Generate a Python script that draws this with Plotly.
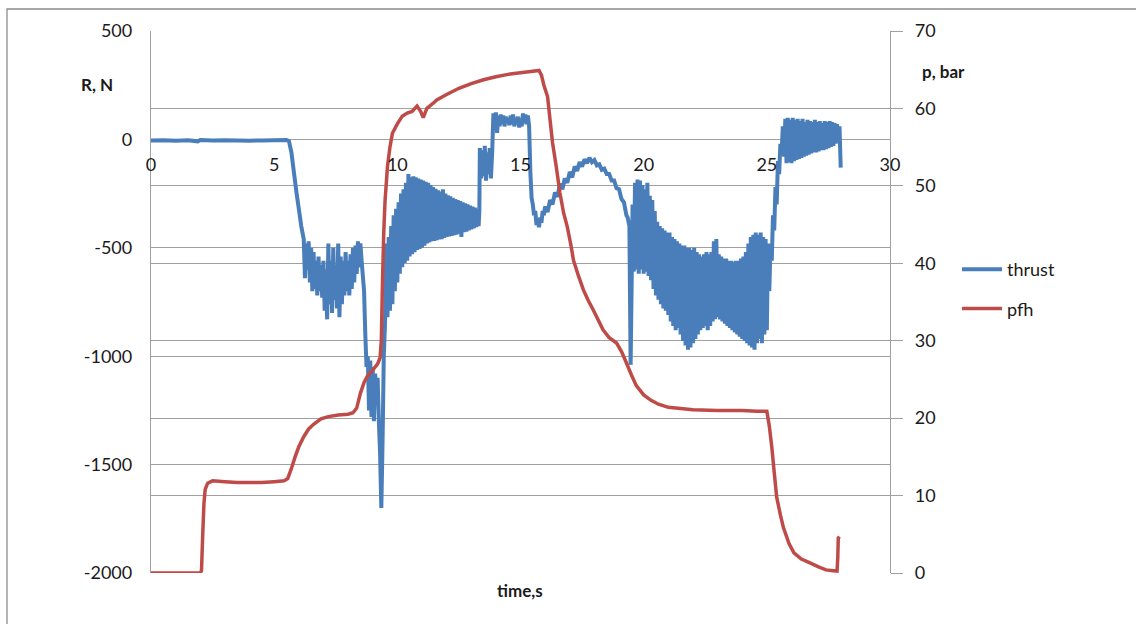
import plotly.graph_objects as go

# ---------------- data ----------------
x_ticks = [0, 5, 10, 15, 20, 25, 30]
left_ticks = [-2000, -1500, -1000, -500, 0, 500]
left_tick_labels = ["-2000", "-1500", "-1000", "-500", "0", "500"]
right_ticks = [0, 10, 20, 30, 40, 50, 60, 70]

series_names = ["thrust", "pfh"]
left_title = "R, N"
right_title = "p, bar"
x_title = "time,s"

# thrust, N  (time s, value)
thrust_points = [
    (0.0, -5), (0.5, -4), (1.0, -6), (1.5, -4), (1.9, -9), (2.0, -3), (2.5, -5), (3.0, -4),
    (3.5, -5), (4.0, -6), (4.5, -5), (5.0, -4), (5.5, -3), (5.6, -8),
    (5.7, -60), (5.8, -150), (5.9, -240), (6.0, -320), (6.1, -400),
    (6.2, -460), (6.25, -640), (6.3, -480), (6.35, -600), (6.4, -470), (6.45, -660), (6.5, -500),
    (6.55, -700), (6.6, -520), (6.65, -690), (6.7, -560), (6.75, -720), (6.8, -540), (6.85, -700),
    (6.9, -580), (6.95, -730), (7.0, -560), (7.05, -790), (7.1, -600), (7.15, -830), (7.2, -480),
    (7.25, -760), (7.3, -560), (7.35, -800), (7.4, -500), (7.45, -740), (7.5, -580), (7.55, -780),
    (7.6, -480), (7.65, -820), (7.7, -540), (7.75, -760), (7.8, -560), (7.85, -720), (7.9, -520),
    (7.95, -700), (8.0, -560), (8.05, -720), (8.1, -530), (8.15, -690), (8.2, -500), (8.25, -660),
    (8.3, -490), (8.35, -620), (8.4, -470), (8.45, -590), (8.5, -480), (8.55, -560),
    (8.65, -700), (8.7, -900), (8.75, -1050), (8.8, -1000), (8.85, -1250), (8.9, -1020),
    (8.95, -1280), (9.0, -1050), (9.05, -1300), (9.1, -1080), (9.15, -1200), (9.2, -1100),
    (9.25, -1300), (9.3, -1450), (9.35, -1700), (9.4, -1400), (9.45, -1000),
    (9.5, -850), (9.55, -480), (9.6, -820), (9.65, -450), (9.7, -790), (9.75, -400), (9.8, -760),
    (9.85, -350), (9.9, -700), (9.95, -320), (10.0, -660), (10.05, -290), (10.1, -620),
    (10.15, -250), (10.2, -590), (10.25, -230), (10.3, -570), (10.35, -200), (10.4, -560),
    (10.45, -160), (10.5, -540), (10.55, -175), (10.6, -530), (10.65, -170), (10.7, -520),
    (10.75, -175), (10.8, -510), (10.85, -180), (10.9, -505), (10.95, -185), (11.0, -500),
    (11.05, -190), (11.1, -490), (11.15, -195), (11.2, -480), (11.25, -200), (11.3, -475),
    (11.35, -210), (11.4, -470), (11.45, -220), (11.5, -468), (11.55, -228), (11.6, -465),
    (11.65, -235), (11.7, -462), (11.75, -240), (11.8, -460), (11.85, -230), (11.9, -455),
    (11.95, -250), (12.0, -450), (12.05, -258), (12.1, -448), (12.15, -262), (12.2, -445),
    (12.25, -270), (12.3, -442), (12.35, -275), (12.4, -440), (12.45, -280), (12.5, -435),
    (12.55, -285), (12.6, -450), (12.65, -290), (12.7, -428), (12.75, -295), (12.8, -425),
    (12.85, -300), (12.9, -420), (12.95, -305), (13.0, -415), (13.05, -310), (13.1, -410),
    (13.15, -315), (13.2, -405), (13.25, -320), (13.3, -400), (13.33, -330),
    (13.35, -40), (13.4, -180), (13.45, -50), (13.5, -170), (13.55, -30), (13.6, -190),
    (13.65, -60), (13.7, -160), (13.75, -40), (13.8, -180), (13.85, -60),
    (13.9, 120), (13.95, 50), (14.0, 125), (14.05, 30), (14.1, 110), (14.15, 60), (14.2, 115),
    (14.25, 70), (14.3, 110), (14.35, 60), (14.4, 105), (14.45, 75), (14.5, 100), (14.55, 65),
    (14.6, 110), (14.65, 70), (14.7, 115), (14.75, 60), (14.8, 100), (14.85, 70), (14.9, 105),
    (14.95, 55), (15.0, 95), (15.05, 60), (15.1, 120), (15.15, 75), (15.2, 115), (15.25, 70),
    (15.3, 110), (15.35, 60),
    (15.4, -150), (15.45, -270), (15.5, -300), (15.55, -350), (15.6, -330), (15.65, -395),
    (15.7, -370), (15.75, -405), (15.8, -360), (15.85, -385), (15.9, -330), (15.95, -350),
    (16.0, -310), (16.1, -335), (16.2, -280), (16.3, -300), (16.4, -245), (16.5, -265),
    (16.6, -205), (16.7, -230), (16.8, -180), (16.9, -200), (17.0, -150), (17.1, -175),
    (17.2, -125), (17.3, -145), (17.4, -105), (17.5, -125), (17.6, -92), (17.7, -110),
    (17.8, -85), (17.9, -105), (18.0, -95), (18.1, -120), (18.2, -115), (18.3, -140),
    (18.4, -135), (18.5, -160), (18.6, -160), (18.7, -190), (18.8, -190), (18.9, -225),
    (19.0, -230), (19.1, -275), (19.2, -290), (19.3, -350), (19.35, -360), (19.42, -400),
    (19.47, -1040), (19.52, -600),
    (19.55, -300), (19.6, -610), (19.65, -200), (19.7, -600), (19.75, -185), (19.8, -620),
    (19.85, -190), (19.9, -600), (19.95, -210), (20.0, -620), (20.05, -230), (20.1, -610),
    (20.15, -200), (20.2, -630), (20.25, -260), (20.3, -650), (20.35, -280), (20.4, -690),
    (20.45, -330), (20.5, -720), (20.55, -380), (20.6, -740), (20.65, -400), (20.7, -760),
    (20.75, -410), (20.8, -780), (20.85, -420), (20.9, -790), (20.95, -430), (21.0, -810),
    (21.05, -430), (21.1, -840), (21.15, -450), (21.2, -860), (21.25, -460), (21.3, -880),
    (21.35, -470), (21.4, -870), (21.45, -480), (21.5, -900), (21.55, -490), (21.6, -930),
    (21.65, -490), (21.7, -950), (21.75, -500), (21.8, -970), (21.85, -500), (21.9, -960),
    (21.95, -510), (22.0, -940), (22.05, -500), (22.1, -920), (22.15, -520), (22.2, -900),
    (22.25, -530), (22.3, -880), (22.35, -540), (22.4, -870), (22.45, -530), (22.5, -860),
    (22.55, -520), (22.6, -880), (22.65, -530), (22.7, -860), (22.75, -520), (22.8, -840),
    (22.85, -470), (22.9, -830), (22.95, -460), (23.0, -820), (23.05, -530), (23.1, -830),
    (23.15, -540), (23.2, -840), (23.25, -550), (23.3, -850), (23.35, -550), (23.4, -860),
    (23.45, -560), (23.5, -870), (23.55, -560), (23.6, -880), (23.65, -565), (23.7, -890),
    (23.75, -560), (23.8, -900), (23.85, -560), (23.9, -910), (23.95, -550), (24.0, -920),
    (24.05, -540), (24.1, -930), (24.15, -520), (24.2, -940), (24.25, -480), (24.3, -950),
    (24.35, -450), (24.4, -960), (24.45, -440), (24.5, -970), (24.55, -430), (24.6, -940),
    (24.65, -440), (24.7, -920), (24.75, -430), (24.8, -940), (24.85, -450), (24.9, -900),
    (24.95, -460), (25.0, -880), (25.05, -480), (25.1, -700),
    (25.15, -480), (25.2, -560), (25.25, -350), (25.3, -420), (25.35, -220), (25.4, -300),
    (25.45, -100), (25.5, -160), (25.55, -20), (25.6, -60), (25.65, 60), (25.7, -80),
    (25.75, 95), (25.8, -110), (25.85, 100), (25.9, -105), (25.95, 90), (26.0, -110),
    (26.05, 100), (26.1, -100), (26.15, 90), (26.2, -95), (26.25, 95), (26.3, -90),
    (26.35, 85), (26.4, -85), (26.45, 95), (26.5, -80), (26.55, 80), (26.6, -75), (26.65, 90),
    (26.7, -70), (26.75, 85), (26.8, -65), (26.85, 80), (26.9, -60), (26.95, 90), (27.0, -60),
    (27.05, 80), (27.1, -55), (27.15, 85), (27.2, -50), (27.25, 75), (27.3, -50), (27.35, 85),
    (27.4, -45), (27.45, 80), (27.5, -40), (27.55, 85), (27.6, -35), (27.65, 80), (27.7, -30),
    (27.75, 75), (27.8, -20), (27.85, 70), (27.9, -10), (27.95, 60), (28.0, -130),
]

# pfh, bar  (time s, value)
pfh_points = [
    (0.0, 0), (1.0, 0), (2.0, 0), (2.05, 0.3), (2.1, 5), (2.15, 9), (2.2, 10.8), (2.3, 11.6),
    (2.5, 11.9), (3.0, 11.8), (3.5, 11.7), (4.0, 11.7), (4.5, 11.7), (5.0, 11.8), (5.4, 11.9),
    (5.55, 12.2), (5.7, 13.5), (5.85, 15.0), (6.0, 16.3), (6.2, 17.6), (6.4, 18.6), (6.6, 19.2),
    (6.9, 19.9), (7.2, 20.2), (7.6, 20.4), (8.0, 20.5), (8.2, 20.7), (8.35, 21.3), (8.5, 23.2),
    (8.65, 24.6), (8.8, 25.5), (9.0, 26.2), (9.2, 27.0), (9.3, 27.8), (9.35, 30), (9.4, 38),
    (9.45, 44), (9.5, 48), (9.6, 52.5), (9.7, 55), (9.8, 56.8), (10.0, 58), (10.2, 59),
    (10.4, 59.4), (10.6, 59.6), (10.8, 60.3), (10.95, 59.6), (11.05, 58.8), (11.2, 60),
    (11.5, 60.8), (11.6, 61.1), (12.0, 61.8), (12.5, 62.6), (13.0, 63.2), (13.5, 63.7),
    (14.0, 64.1), (14.5, 64.4), (15.0, 64.6), (15.5, 64.8), (15.75, 64.9), (15.85, 64.3),
    (15.95, 63), (16.1, 61.5), (16.2, 58.5), (16.3, 55.6), (16.45, 52.5), (16.6, 49.1),
    (16.75, 46.5), (16.9, 44.7), (17.05, 42.3), (17.15, 40.4), (17.35, 38.4), (17.55, 36.6),
    (17.75, 35.2), (17.95, 34), (18.15, 32.7), (18.35, 31.4), (18.6, 30.4), (18.9, 29.7),
    (19.1, 28.6), (19.25, 27.5), (19.5, 25.6), (19.7, 24.2), (20.0, 23), (20.3, 22.3),
    (20.6, 21.8), (21.0, 21.4), (22.0, 21.1), (23.0, 21.0), (24.0, 21.0), (24.6, 20.9),
    (25.0, 20.9), (25.1, 19), (25.2, 16.3), (25.3, 13), (25.4, 9.8), (25.55, 7.5),
    (25.67, 5.9), (25.9, 3.8), (26.1, 2.6), (26.4, 1.8), (26.75, 1.3), (27.1, 0.8),
    (27.4, 0.4), (27.7, 0.3), (27.85, 0.25), (27.88, 2), (27.9, 4.5), (27.95, 4.7),
]

thrust_time = [p[0] for p in thrust_points]
thrust_N = [p[1] for p in thrust_points]
pfh_time = [p[0] for p in pfh_points]
pfh_bar = [p[1] for p in pfh_points]

# ---------------- styling ----------------
FONT = "Lato"
GRID = "#a0a0a0"
TXT = "#1a1a1a"
BLUE = "#4a7ebb"
RED = "#be4b48"

fig = go.Figure()
fig.add_trace(go.Scatter(x=thrust_time, y=thrust_N, mode="lines", name=series_names[0],
                         line=dict(color=BLUE, width=4, simplify=False), yaxis="y",
                         legendgroup="a"))
fig.add_trace(go.Scatter(x=pfh_time, y=pfh_bar, mode="lines", name=series_names[1],
                         line=dict(color=RED, width=3.5, simplify=False), yaxis="y2",
                         legendgroup="b"))

PL, PR, PT, PB = 151, 890, 31, 573
W, H = 1136, 624


def px(xp):
    return (xp - PL) / (PR - PL)


def py(yp):
    return (PB - yp) / (PB - PT)


def label(text, xp, yp):
    return dict(text="<b>" + text + "</b>", xref="paper", yref="paper",
                x=px(xp), y=py(yp), xanchor="center", yanchor="middle",
                showarrow=False, font=dict(size=17, color=TXT))


fig.update_layout(
    width=W, height=H,
    margin=dict(l=PL, r=W - PR, t=PT, b=H - PB, autoexpand=False),
    paper_bgcolor="white", plot_bgcolor="white",
    font=dict(family=FONT, size=18, color=TXT),
    showlegend=True,
    legend=dict(x=px(957), y=py(251), xanchor="left", yanchor="top",
                font=dict(family=FONT, size=18, color=TXT),
                tracegroupgap=13, bgcolor="rgba(0,0,0,0)", itemwidth=40),
    xaxis=dict(range=[0, 30], tickvals=x_ticks, showgrid=False, zeroline=False,
               showline=False, ticks="", anchor="free", position=py(140),
               ticklabelstandoff=12, tickfont=dict(size=18, color=TXT)),
    yaxis=dict(range=[-2000, 500], tickvals=left_ticks, ticktext=left_tick_labels,
               showgrid=True, gridcolor=GRID,
               gridwidth=1.3, zeroline=False, showline=True, linecolor=GRID, linewidth=1.3,
               ticks="", ticklabelstandoff=14, tickfont=dict(size=18, color=TXT)),
    yaxis2=dict(range=[0, 70], tickvals=right_ticks, overlaying="y", side="right",
                showgrid=True, gridcolor=GRID, gridwidth=1.3, zeroline=False,
                showline=True, linecolor=GRID, linewidth=1.3,
                ticks="outside", ticklen=12, tickcolor=GRID, tickwidth=1.3,
                ticklabelstandoff=8, tickfont=dict(size=18, color=TXT)),
    shapes=[dict(type="rect", xref="paper", yref="paper",
                 x0=px(7), x1=px(1150), y0=py(640), y1=py(9),
                 line=dict(color="#8c8c8c", width=1.3), fillcolor="rgba(0,0,0,0)",
                 layer="below")],
    annotations=[
        label(left_title, 97, 84),
        label(right_title, 943, 71),
        label(x_title, 520, 590),
    ],
)

fig.write_html("out.html", config={"displayModeBar": False},
               post_script="document.body.style.margin='0';document.body.style.padding='0';")
